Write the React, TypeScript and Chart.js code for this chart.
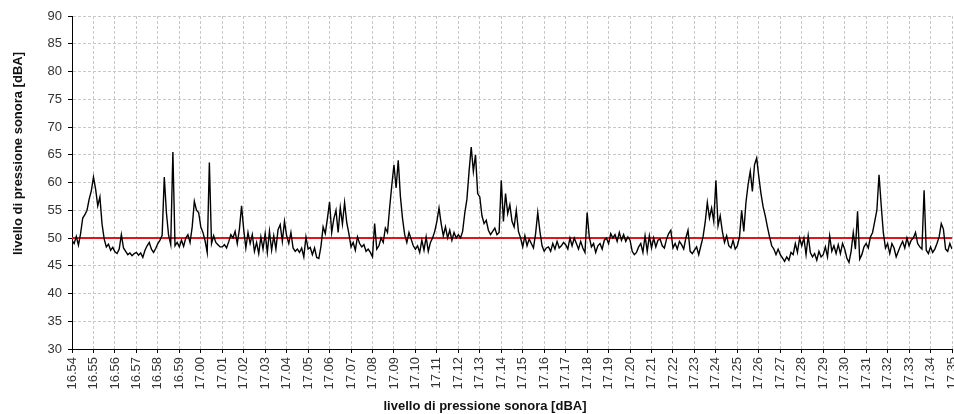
import React, { useEffect, useRef } from "react";
import { Chart, registerables } from "chart.js";

Chart.register(...registerables);

// Minute tick labels (16.54 … 17.35)
const timeLabels = [
  "16.54", "16.55", "16.56", "16.57", "16.58", "16.59", "17.00", "17.01", "17.02", "17.03",
  "17.04", "17.05", "17.06", "17.07", "17.08", "17.09", "17.10", "17.11", "17.12", "17.13",
  "17.14", "17.15", "17.16", "17.17", "17.18", "17.19", "17.20", "17.21", "17.22", "17.23",
  "17.24", "17.25", "17.26", "17.27", "17.28", "17.29", "17.30", "17.31", "17.32", "17.33",
  "17.34", "17.35",
];

// Sampling interval of the measured series, in minutes (6 s)
const sampleStepMinutes = 0.1;

// Measured sound pressure level [dBA], one row per minute (10 samples each)
const levels = [
  49.5, 49.0, 50.3, 48.7, 50.8, 53.6, 54.2, 55.0, 57.0, 58.5,
  61.0, 58.8, 55.8, 57.4, 52.5, 49.8, 48.4, 48.9, 47.8, 48.3,
  47.5, 47.2, 48.0, 50.6, 48.2, 47.6, 47.0, 47.3, 46.8, 47.2,
  47.4, 46.9, 47.3, 46.5, 47.8, 48.6, 49.2, 48.0, 47.4, 48.1,
  49.0, 49.6, 50.5, 61.0, 54.5, 50.5, 48.8, 65.5, 48.6, 49.2,
  48.4, 49.6, 48.5, 50.0, 50.6, 49.2, 52.0, 56.6, 55.0, 54.6,
  52.0, 51.0, 49.5, 47.4, 63.6, 49.0, 50.4, 49.2, 48.8, 48.4,
  48.4, 48.8, 48.2, 49.3, 50.6, 50.0, 51.2, 49.0, 51.6, 55.8,
  51.5, 48.2, 51.0, 49.0, 50.6, 47.6, 49.2, 47.2, 50.2, 48.0,
  50.8, 47.4, 51.2, 47.8, 50.4, 48.0, 51.5, 52.4, 49.4, 53.0,
  50.4, 49.0, 51.0, 48.2, 47.6, 48.0, 47.4, 48.2, 46.6, 50.2,
  48.0, 48.3, 47.0, 48.2, 46.5, 46.3, 48.5, 52.0, 50.8, 53.5,
  56.5, 51.0, 53.5, 55.0, 51.0, 55.5, 52.5, 56.4, 52.8, 50.8,
  48.4, 49.2, 47.8, 50.2, 49.0, 48.4, 48.8, 47.6, 48.0, 47.4,
  46.6, 52.6, 48.0, 48.6, 50.0, 49.2, 51.8, 51.0, 55.5, 59.5,
  63.2, 59.0, 64.0, 57.5, 53.5, 50.6, 49.2, 51.0, 49.8, 48.6,
  48.0, 48.6, 47.4, 49.6, 47.8, 50.2, 47.6, 49.2, 50.0, 51.2,
  53.0, 55.4, 52.6, 50.4, 52.0, 50.0, 51.4, 49.6, 51.0, 50.0,
  50.6, 50.0, 51.2, 54.5, 57.0, 62.0, 66.4, 62.0, 65.0, 58.0,
  57.4, 54.0, 52.6, 53.2, 51.4, 50.6, 51.2, 51.8, 50.6, 51.0,
  60.4, 53.0, 58.0, 54.4, 56.0, 53.0, 52.0, 55.0, 51.2, 50.0,
  48.4, 50.4, 48.6, 49.8, 49.0, 48.2, 50.8, 54.6, 51.2, 48.6,
  47.6, 48.2, 48.4, 47.6, 49.0, 48.0, 49.4, 48.2, 48.6, 49.2,
  48.8, 48.0, 50.0, 48.6, 50.0, 49.0, 48.0, 49.4, 48.2, 47.4,
  54.6, 50.2, 48.4, 49.0, 47.4, 48.6, 49.0, 48.0, 49.6, 50.0,
  49.0, 50.8, 50.0, 50.6, 49.4, 51.0, 49.6, 50.6, 49.4, 50.2,
  49.6, 47.6, 47.0, 47.4, 48.4, 49.0, 47.4, 50.4, 47.6, 50.4,
  48.2, 50.0, 48.4, 49.6, 49.8, 48.6, 48.2, 49.8, 50.8, 51.4,
  48.2, 49.0, 48.0, 49.4, 48.8, 48.0, 50.0, 51.4, 47.6, 47.2,
  47.8, 48.4, 47.0, 48.6, 50.2, 52.8, 56.4, 53.6, 55.4, 53.0,
  60.4, 52.2, 54.0, 51.2, 49.2, 50.4, 48.6, 48.2, 49.6, 48.0,
  48.6, 50.2, 55.0, 51.2, 56.4, 59.6, 62.0, 58.4, 63.2, 64.4,
  61.0, 58.0, 55.6, 54.0, 52.0, 50.2, 48.6, 48.0, 47.0, 48.0,
  47.0, 46.4, 45.8, 46.6, 46.0, 47.4, 47.0, 49.0, 47.4, 50.0,
  48.6, 50.0, 47.0, 50.4, 47.4, 46.6, 47.2, 46.0, 47.6, 46.6,
  47.0, 48.4, 46.6, 50.4, 47.6, 48.6, 47.2, 48.8, 47.2, 49.0,
  48.0, 46.4, 45.6, 47.6, 51.0, 48.0, 54.8, 46.2, 47.0, 48.4,
  49.0, 48.2, 50.2, 51.0, 53.0, 55.0, 61.4, 56.0, 51.0, 48.2,
  49.0, 47.2, 49.0, 48.2, 46.6, 47.6, 48.6, 49.4, 48.2, 50.0,
  48.6, 49.6, 50.0, 51.0, 49.0, 48.4, 48.0, 58.6, 47.8, 47.2,
  48.4, 47.4, 48.0, 49.0, 50.2, 52.6, 51.6, 48.0, 47.6, 49.0,
  48.0,
];

// Reference limit level [dBA]
const limitLevel = 50;

// Axis range
const yMin = 30;
const yMax = 90;
const yStep = 5;

const yTitle = "livello di pressione sonora [dBA]";
const xTitle = "livello di pressione sonora [dBA]";

const FONT = "'Liberation Sans', Arial, sans-serif";

export default function App() {
  const canvasRef = useRef<HTMLCanvasElement | null>(null);

  useEffect(() => {
    document.body.style.margin = "0";
    const canvas = canvasRef.current;
    if (!canvas) return;

    const points = levels.map((y, i) => ({ x: i * sampleStepMinutes, y }));
    const lastMinute = timeLabels.length - 1;
    const limitPoints = [
      { x: 0, y: limitLevel },
      { x: lastMinute, y: limitLevel },
    ];

    const titlePlugin = {
      id: "axisTitles",
      afterDraw(chart: any) {
        const { ctx, chartArea } = chart;
        ctx.save();
        ctx.font = `bold 13px ${FONT}`;
        ctx.fillStyle = "#111";
        ctx.textAlign = "center";
        ctx.textBaseline = "middle";
        const cx = (chartArea.left + chartArea.right) / 2 - 27;
        ctx.fillText(xTitle, cx, 406);
        ctx.translate(18, (chartArea.top + chartArea.bottom) / 2 - 29);
        ctx.rotate(-Math.PI / 2);
        ctx.fillText(yTitle, 0, 0);
        ctx.restore();
      },
    };

    const gridColor = "#c8c8c8";

    const chart = new Chart(canvas, {
      type: "line",
      data: {
        datasets: [
          {
            data: points,
            borderColor: "#000000",
            borderWidth: 1.4,
            pointRadius: 0,
            tension: 0,
          },
          {
            data: limitPoints,
            borderColor: "#e0141e",
            borderWidth: 2,
            pointRadius: 0,
            tension: 0,
          },
        ],
      },
      options: {
        animation: false,
        responsive: false,
        maintainAspectRatio: false,
        events: [],
        layout: { padding: { top: 16, right: 2, left: 0, bottom: 0 } },
        plugins: {
          legend: { display: false },
          tooltip: { enabled: false },
          title: { display: false },
        },
        scales: {
          x: {
            type: "linear",
            min: 0,
            max: lastMinute,
            ticks: {
              stepSize: 1,
              autoSkip: false,
              maxRotation: 90,
              minRotation: 90,
              padding: 4,
              color: "#333",
              font: { family: FONT, size: 13 },
              callback: (v: any) => timeLabels[Math.round(Number(v))] ?? "",
            },
            grid: {
              color: gridColor,
              lineWidth: 1,
              tickColor: "#000",
              tickLength: 4,
              tickBorderDash: [],
            },
            border: { color: "#000", width: 1, dash: [3, 2] },
            afterFit: (s: any) => {
              s.height = 65;
              s.paddingLeft = 0;
              s.paddingRight = 0;
            },
          },
          y: {
            min: yMin,
            max: yMax,
            ticks: {
              stepSize: yStep,
              padding: 6,
              color: "#333",
              font: { family: FONT, size: 13 },
            },
            grid: {
              color: gridColor,
              lineWidth: 1,
              tickColor: "#000",
              tickLength: 4,
              tickBorderDash: [],
            },
            border: { color: "#000", width: 1, dash: [3, 2] },
            afterFit: (s: any) => {
              s.width = 72;
              s.paddingTop = 0;
              s.paddingBottom = 0;
            },
          },
        },
      } as any,
      plugins: [titlePlugin],
    });

    return () => chart.destroy();
  }, []);

  return (
    <div style={{ width: 954, height: 414, background: "#fff" }}>
      <canvas ref={canvasRef} width={954} height={414} style={{ display: "block" }} />
    </div>
  );
}
